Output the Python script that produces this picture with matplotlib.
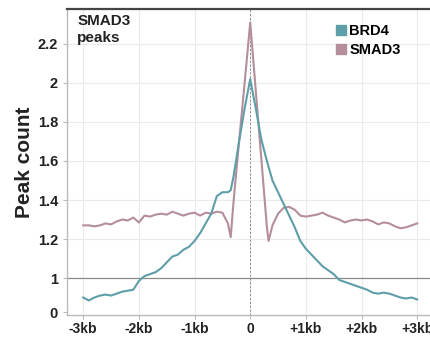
import matplotlib
matplotlib.use("Agg")
import matplotlib.pyplot as plt
from matplotlib.lines import Line2D

plt.rcParams["font.family"] = ["Liberation Sans", "DejaVu Sans"]
plt.rcParams["font.weight"] = "bold"

# distance from peak centre, kb
POS_KB = [
    -3.0, -2.9, -2.8, -2.7, -2.6, -2.5, -2.4, -2.3, -2.2, -2.1,
    -2.0, -1.9, -1.8, -1.7, -1.6, -1.5, -1.4, -1.3, -1.2, -1.1,
    -1.0, -0.9, -0.8, -0.7, -0.6, -0.5, -0.4, -0.35, -0.3, -0.2,
    -0.1, 0.0, 0.1, 0.2, 0.3, 0.33, 0.4, 0.5, 0.6, 0.7,
    0.8, 0.9, 1.0, 1.1, 1.2, 1.3, 1.4, 1.5, 1.6, 1.7,
    1.8, 1.9, 2.0, 2.1, 2.2, 2.3, 2.4, 2.5, 2.6, 2.7,
    2.8, 2.9, 3.0,
]
BRD4 = [
    0.90, 0.885, 0.90, 0.91, 0.915, 0.91, 0.92, 0.93, 0.935, 0.94,
    0.985, 1.01, 1.02, 1.03, 1.05, 1.08, 1.11, 1.12, 1.145, 1.16,
    1.19, 1.23, 1.28, 1.33, 1.42, 1.44, 1.44, 1.45, 1.52, 1.70,
    1.87, 2.02, 1.87, 1.71, 1.60, 1.57, 1.50, 1.44, 1.38, 1.32,
    1.26, 1.19, 1.15, 1.12, 1.09, 1.06, 1.04, 1.02, 0.99, 0.98,
    0.97, 0.96, 0.95, 0.94, 0.925, 0.92, 0.925, 0.92, 0.91, 0.90,
    0.895, 0.90, 0.89,
]
SMAD3 = [
    1.27, 1.27, 1.265, 1.27, 1.28, 1.275, 1.29, 1.30, 1.295, 1.31,
    1.285, 1.32, 1.315, 1.325, 1.33, 1.325, 1.34, 1.33, 1.32, 1.33,
    1.335, 1.32, 1.335, 1.33, 1.34, 1.335, 1.28, 1.21, 1.39, 1.70,
    2.00, 2.31, 1.96, 1.61, 1.26, 1.19, 1.27, 1.33, 1.36, 1.365,
    1.35, 1.32, 1.315, 1.32, 1.325, 1.335, 1.32, 1.31, 1.30, 1.285,
    1.295, 1.30, 1.295, 1.30, 1.29, 1.275, 1.285, 1.28, 1.265, 1.255,
    1.26, 1.27, 1.28,
]

X_TICKS = [-3, -2, -1, 0, 1, 2, 3]
X_LABELS = ["-3kb", "-2kb", "-1kb", "0", "+1kb", "+2kb", "+3kb"]
Y_TICKS = [0.825, 1.0, 1.2, 1.4, 1.6, 1.8, 2.0, 2.2]
Y_LABELS = ["0", "1", "1.2", "1.4", "1.6", "1.8", "2", "2.2"]

BRD4_COLOR = "#5e9ea8"
SMAD3_COLOR = "#b48e9a"

fig = plt.figure(figsize=(4.30, 3.41), dpi=100)
ax = fig.add_axes([0.156, 0.076, 0.844, 0.898])

ax.set_xlim(-3.29, 3.23)
ax.set_ylim(0.81, 2.38)

for x in X_TICKS:
    ax.axvline(x, color="#ebebeb", lw=0.8, zorder=0)
for y in Y_TICKS[2:]:
    ax.axhline(y, color="#ebebeb", lw=0.8, zorder=0)
ax.axhline(1.0, color="#8a8a8a", lw=0.9, zorder=1)
ax.axvline(0, color="#888888", lw=0.7, ls=(0, (2, 2)), zorder=1)

ax.plot(POS_KB, BRD4, color=BRD4_COLOR, lw=1.5, zorder=3)
ax.plot(POS_KB, SMAD3, color=SMAD3_COLOR, lw=1.5, zorder=2)

ax.set_xticks(X_TICKS)
ax.set_xticklabels(X_LABELS)
ax.set_yticks(Y_TICKS)
ax.set_yticklabels(Y_LABELS)
ax.tick_params(axis="both", colors="#bbbbbb", labelcolor="#222222",
               labelsize=10.5, length=3, width=0.8)
ax.tick_params(axis="x", pad=2, labelsize=10)

for side in ("left", "bottom"):
    ax.spines[side].set_color("#bbbbbb")
    ax.spines[side].set_linewidth(1.0)
ax.spines["top"].set_color("#444444")
ax.spines["top"].set_linewidth(1.6)
ax.spines["right"].set_visible(False)

ax.set_ylabel("Peak count", fontsize=15, fontweight="bold", color="#222222", labelpad=3)

ax.text(0.028, 0.982, "SMAD3\npeaks", transform=ax.transAxes, ha="left", va="top",
        fontsize=11, fontweight="bold", color="#222222", linespacing=1.25)

handles = [
    Line2D([], [], marker="s", ls="", color=BRD4_COLOR, markersize=7.5),
    Line2D([], [], marker="s", ls="", color=SMAD3_COLOR, markersize=7.5),
]
ax.legend(handles, ["BRD4", "SMAD3"], loc="upper left", bbox_to_anchor=(0.715, 0.985),
          frameon=False, handlelength=0.6, handletextpad=0.25,
          labelspacing=0.35, borderpad=0.2, prop={"weight": "bold", "size": 10.5})

fig.savefig("out.png", dpi=100)
